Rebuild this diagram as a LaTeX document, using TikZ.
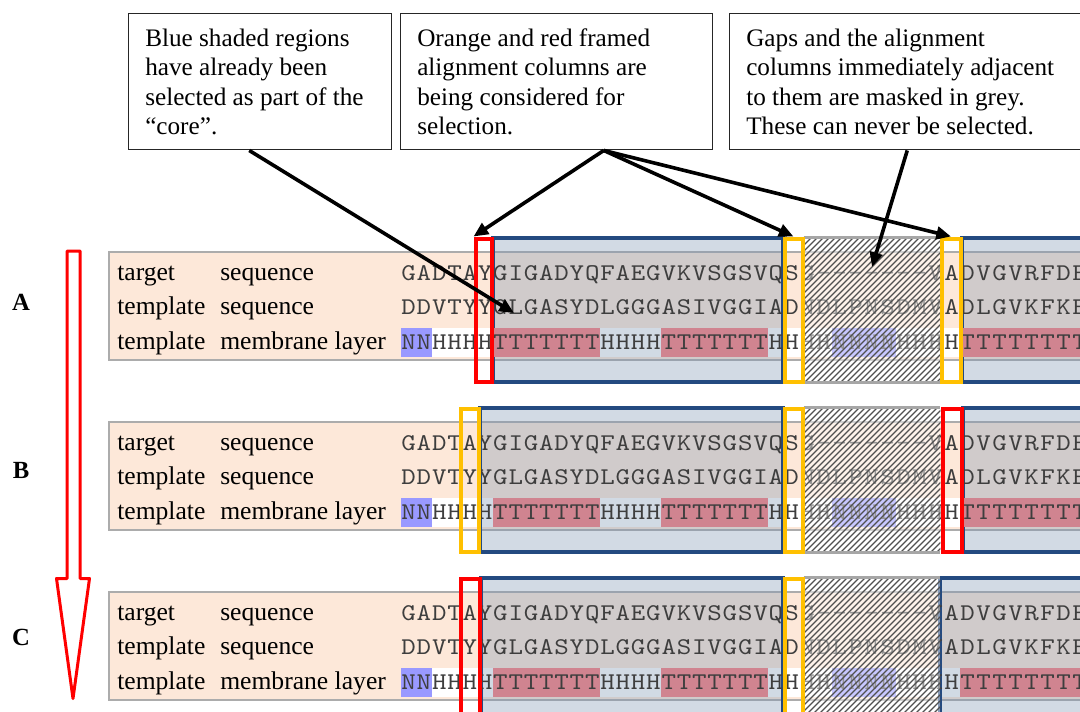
\documentclass[tikz,border=0pt]{standalone}
\usepackage{fontspec}
\setmainfont{Liberation Serif}
\newfontfamily\seqmono{lmmono10-regular.otf}[FakeStretch=1.15]
\usetikzlibrary{calc,fit,arrows.meta}

\definecolor{peach}{RGB}{253,232,217}
\definecolor{peachedge}{RGB}{172,172,172}
\definecolor{coreblue}{RGB}{126,149,178}
\definecolor{coreedge}{RGB}{36,74,128}
\definecolor{tmpink}{RGB}{208,132,144}
\definecolor{nblue}{RGB}{153,153,255}
\definecolor{candorange}{RGB}{255,192,0}
\definecolor{candred}{RGB}{255,0,0}
\definecolor{maskgrey}{RGB}{166,166,166}
\definecolor{seqgrey}{RGB}{62,62,62}
\definecolor{hatchink}{RGB}{80,80,80}

\tikzset{
  rowlabel/.style={anchor=base west, inner sep=0pt, font=\fontsize{19.2}{23}\selectfont},
  seqchar/.style={anchor=base, inner sep=0pt, text=seqgrey, font=\fontsize{18}{22}\seqmono},
  peachrow/.style={fill=peach, draw=peachedge, line width=0.8pt, inner sep=0pt},
  core/.style={draw=coreedge, line width=2.4pt, fill=coreblue, fill opacity=0.35, inner sep=0pt},
  maskfill/.style={fill=white, fill opacity=0.45, inner sep=0pt},
  maskedge/.style={draw=maskgrey, line width=2.4pt},
  hatchline/.style={draw=hatchink, line width=0.85pt},
  colframe/.style={draw=#1, line width=3pt, inner sep=0pt},
  calloutbox/.style={draw=black!85, line width=1.1pt, fill=white, anchor=north west,
    inner sep=0pt, minimum height=102pt},
  callouttext/.style={anchor=west, align=left, inner sep=0pt,
    font=\fontsize{18.9}{22.1}\selectfont},
  pointer/.style={draw=black, line width=2.7pt, -{Triangle[length=11pt,width=9.5pt]}},
  bigarrow/.style={draw=candred, line width=2.25pt, fill=white, line join=round},
  panelletter/.style={inner sep=0pt, font=\fontsize{18.5}{20}\selectfont\bfseries}
}

% one row of alignment characters, one node per column
\newcommand\seqrow[3]{%
  \foreach \ch [count=\i from 0] in {#3}
    \node[seqchar] (#1-\i) at ({colx(\i+0.5)},#2) {\ch};}

% peach row block and the white membrane band
\newcommand\panelbase[2]{%
  \node[peachrow, fit={(109,252+#2) (1095,360+#2)}] (#1-rows) {};
  \fill[white] (401,328+#2) rectangle (1095,357+#2);}

% membrane colouring, labels, sequences and the grey mask
\newcommand\panelcontent[2]{%
  \fill[nblue] ({colx(0)},328+#2) rectangle ({colx(2)},357+#2);
  \fill[tmpink] ({colx(6)},328+#2) rectangle ({colx(13)},357+#2);
  \fill[tmpink] ({colx(17)},328+#2) rectangle ({colx(24)},357+#2);
  \fill[tmpink] ({colx(36)},328+#2) rectangle (1095,357+#2);
  \fill[nblue] ({colx(28)},328+#2) rectangle ({colx(32)},357+#2);
  \node[rowlabel] (#1-l1a) at (117,280+#2) {target};
  \node[rowlabel] (#1-l1b) at (220,280+#2) {sequence};
  \node[rowlabel] (#1-l2a) at (117,314.5+#2) {template};
  \node[rowlabel] (#1-l2b) at (220,314.5+#2) {sequence};
  \node[rowlabel] (#1-l3a) at (117,349+#2) {template};
  \node[rowlabel] (#1-l3b) at (220,349+#2) {membrane layer};
  \seqrow{#1-t}{280+#2}{G,A,D,T,A,Y,G,I,G,A,D,Y,Q,F,A,E,G,V,K,V,S,G,S,V,Q,S,G,-,-,-,-,-,-,-,V,A,D,V,G,V,R,F,D,E}
  \seqrow{#1-s}{314.5+#2}{D,D,V,T,Y,Y,G,L,G,A,S,Y,D,L,G,G,G,A,S,I,V,G,G,I,A,D,N,D,L,P,N,S,D,M,V,A,D,L,G,V,K,F,K,E}
  \seqrow{#1-m}{349+#2}{N,N,H,H,H,H,T,T,T,T,T,T,T,H,H,H,H,T,T,T,T,T,T,T,H,H,H,H,N,N,N,N,H,H,H,H,T,T,T,T,T,T,T,T,T}
  \node[maskfill, fit={(804,238+#2) (940,382+#2)}] (#1-mask) {};
  \begin{scope}
    \clip (#1-mask.south west) rectangle (#1-mask.north east);
    \foreach \k in {-26,...,24}
      \draw[hatchline] (804+6*\k,383+#2) -- ++(150,-150);
  \end{scope}
  \draw[maskedge] (#1-mask.north west) -- (#1-mask.north east);
  \draw[maskedge] (#1-mask.south west) -- (#1-mask.south east);}

\begin{document}
\begin{tikzpicture}[x=0.75pt,y=-0.75pt,
  declare function={colx(\c)=ifthenelse(\c<=25,401+15.3*\c,783.5+16*(\c-25));}]
\useasboundingbox (0,0) rectangle (1080,711);
\clip (0,0) rectangle (1080,711);

% ---- step A ----
\panelbase{A}{0}
\node[core, fit={(493,238) (783,382)}] (A-core1) {};
\node[core, fit={(962,238) (1095,382)}] (A-core2) {};
\panelcontent{A}{0}
\node[colframe=candred, fit={(475.5,238.5) (491.5,381.5)}] (A-f1) {};
\node[colframe=candorange, fit={(784.5,238.5) (802.5,381.5)}] (A-f2) {};
\node[colframe=candorange, fit={(941.5,238.5) (960.5,381.5)}] (A-f3) {};

% ---- step B ----
\panelbase{B}{170}
\node[core, fit={(480,408) (783,552)}] (B-core1) {};
\node[core, fit={(963,408) (1095,552)}] (B-core2) {};
\panelcontent{B}{170}
\node[colframe=candorange, fit={(460.5,408.5) (478.5,551.5)}] (B-f1) {};
\node[colframe=candorange, fit={(784.5,408.5) (802.5,551.5)}] (B-f2) {};
\node[colframe=candred, fit={(942.5,408.5) (961.5,551.5)}] (B-f3) {};

% ---- step C ----
\panelbase{C}{340}
\node[core, fit={(481,578) (783,722)}] (C-core1) {};
\node[core, fit={(940,578) (1095,722)}] (C-core2) {};
\panelcontent{C}{340}
\node[colframe=candred, fit={(460.5,578.5) (479.5,721.5)}] (C-f1) {};
\node[colframe=candorange, fit={(784.5,578.5) (802.5,721.5)}] (C-f2) {};

% step letters and the progress arrow
\node[panelletter] (stepA) at (21,302) {A};
\node[panelletter] (stepB) at (21,470) {B};
\node[panelletter] (stepC) at (21,637) {C};
\draw[bigarrow] (67.2,251) -- (80.2,251) -- (80.2,578.5) -- (89.5,578.5)
  -- (73,698.5) -- (56.5,578.5) -- (67.2,578.5) -- cycle;

% explanatory callouts
\node[calloutbox, minimum width=197.25pt] (c1) at (128,13) {};
\node[callouttext] (c1-text) at ($(c1.west)+(17,0)$)
  {Blue shaded regions\\have already been\\selected as part of the\\“core”.};
\node[calloutbox, minimum width=234pt] (c2) at (400,13) {};
\node[callouttext] (c2-text) at ($(c2.west)+(17,0)$)
  {Orange and red framed\\alignment columns are\\being considered for\\selection.};
\node[calloutbox, minimum width=273pt] (c3) at (729,13) {};
\node[callouttext] (c3-text) at ($(c3.west)+(17,0)$)
  {Gaps and the alignment\\columns immediately adjacent\\to them are masked in grey.\\These can never be selected.};

\coordinate (tipcore) at (514,313);
\coordinate (tipmask) at (872,267);
\draw[pointer] ($(c1.south)+(-11,0)$) -- (tipcore);
\draw[pointer] ($(c2.south)+(47,0)$) -- (A-f1.north west);
\draw[pointer] ($(c2.south)+(47,0)$) -- (A-f2.north);
\draw[pointer] ($(c2.south)+(47,0)$) -- (A-f3.north);
\draw[pointer] ($(c3.south)+(-4.5,0)$) -- (tipmask);
\end{tikzpicture}
\end{document}
